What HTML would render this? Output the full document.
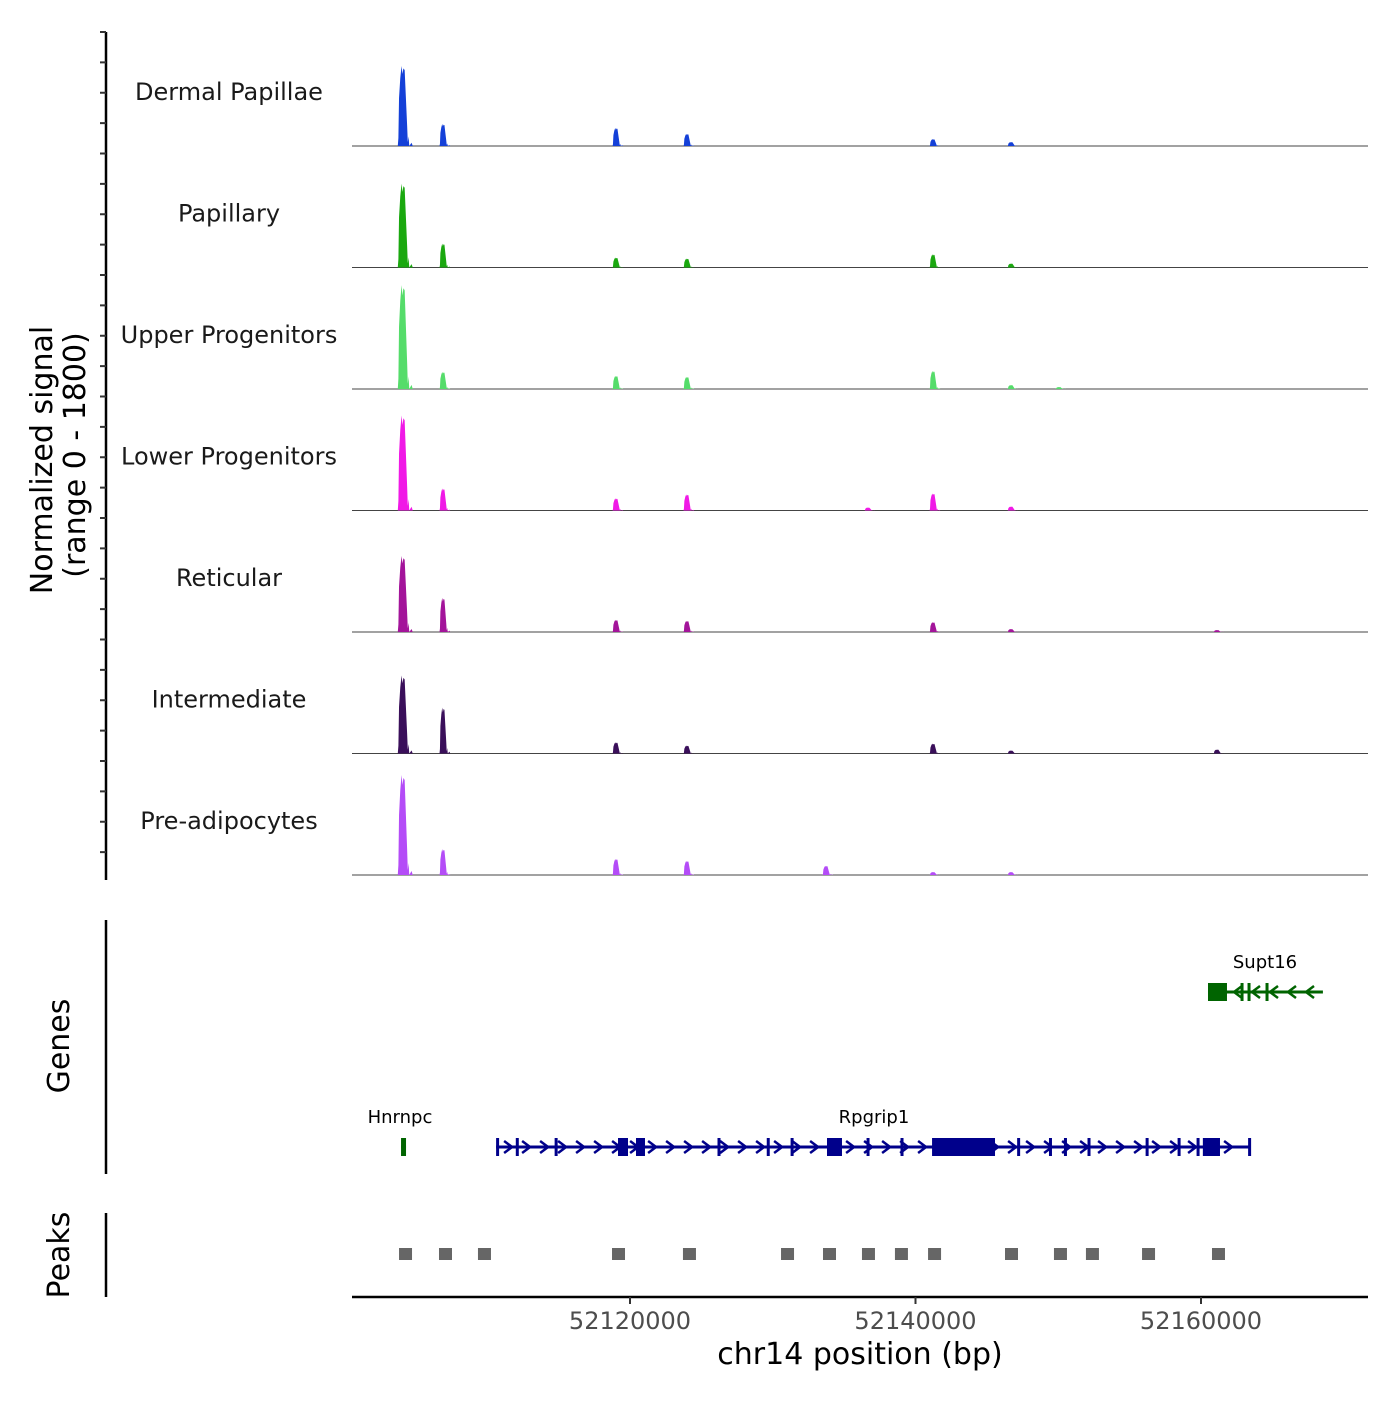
<!DOCTYPE html>
<html><head><meta charset="utf-8"><style>
body{margin:0;background:#fff}
svg text{font-family:"DejaVu Sans","Liberation Sans",sans-serif}
</style></head><body>
<svg id="c" width="1400" height="1400" viewBox="0 0 1400 1400" xmlns="http://www.w3.org/2000/svg"></svg>
<script>
// ---- data (positions in kb, offset from chr14:52,000,000) ----
const trackNames = ["Dermal Papillae","Papillary","Upper Progenitors","Lower Progenitors","Reticular","Intermediate","Pre-adipocytes"];
const trackColors = ["#1440d8","#1aa80f","#55dc6a","#f019e6","#a3149a","#3a0f5a","#b44cf7"];
const peakPosKb = [104.17,106.97,119.09,124.06,133.80,136.74,141.30,146.76,150.12,161.19];
const sigDermal = [1220,335,275,185,0,0,105,60,0,0];
const sigPapillary = [1280,365,150,135,0,0,200,60,0,0];
const sigUpper = [1585,260,200,185,0,0,275,60,30,0];
const sigLower = [1450,335,185,245,0,45,260,60,0,0];
const sigReticular = [1160,520,185,170,0,0,150,45,0,30];
const sigIntermediate = [1190,700,170,120,0,0,150,45,0,60];
const sigPreadipo = [1525,395,245,215,140,0,45,45,0,0];
const signals = [sigDermal,sigPapillary,sigUpper,sigLower,sigReticular,sigIntermediate,sigPreadipo];
const xTicks = [52120000,52140000,52160000];
const peakRegionsKb = [104.24,107.04,109.77,119.16,124.13,131.00,133.94,136.67,138.98,141.30,146.69,150.12,152.36,156.29,161.19];
const rpgripExons = [[110.62,110.75],[112.0,112.05],[114.72,114.78],[119.16,119.86],[120.42,121.05],[126.13,126.19],[129.58,129.62],[131.25,131.31],[133.80,134.85],[136.57,136.63],[138.95,139.01],[141.16,145.57],[147.12,147.24],[149.35,149.49],[150.40,150.54],[152.05,152.11],[156.12,156.18],[158.36,158.42],[159.69,159.75],[160.13,161.33],[163.30,163.40]];
const supt16Exons = [[160.49,161.82],[162.77,162.83],[163.26,163.32],[164.52,164.58]];
const hnrnpcExons = [[103.96,104.31]];

const S = document.getElementById('c'), NS = 'http://www.w3.org/2000/svg';
function el(t, a, p){const e=document.createElementNS(NS,t);for(const k in a)e.setAttribute(k,a[k]);(p||S).appendChild(e);return e;}
const X = kb => 630 + (kb - 120) * 14.275;
const X0 = 352, X1 = 1368;
const base0 = 146, trackH = 121.5, yScale = 118/1800;

const shape = [[-5,0],[-4.5,0.1],[-4,0.6],[-3,0.85],[-2,1],[-1.2,0.9],[-0.5,0.97],[0.5,0.95],[1.5,0.6],[2.5,0.25],[3,0.05],[3.6,0.12],[4.2,0],[6,0.04],[7,0]];
signals.forEach((vals, ti) => {
  const base = base0 + ti * trackH;
  const g = el('g', {});
  
  
  const lab = el('text', {x:229, y:base-46, 'font-size':24, 'text-anchor':'middle', fill:'#1a1a1a'}, g);
  lab.textContent = trackNames[ti];
  
  
  el('line', {x1:X0, x2:X1, y1:base, y2:base, stroke:'#444', 'stroke-width':1}, g);
  vals.forEach((v, i) => {
    if (!v) return;
    const cx = X(peakPosKb[i]), h = v * yScale, w = i === 0 ? 1.25 : 0.9;
    let d = 'M' + (cx + shape[0][0]*w) + ',' + base;
    shape.forEach(s => { d += 'L' + (cx + s[0]*w).toFixed(2) + ',' + (base - s[1]*h).toFixed(2); });
    d += 'Z';
    const p = el('path', {d, fill:trackColors[ti]}, g);
    
    
  });
});

el('line', {x1:106, x2:106, y1:32, y2:880, stroke:'#000', 'stroke-width':2.5});
for (let y = 32; y <= 880; y += trackH/4) el('line', {x1:100, x2:106, y1:y, y2:y, stroke:'#333', 'stroke-width':2});
let t = el('text', {transform:'translate(52,460) rotate(-90)', 'font-size':30, 'text-anchor':'middle'}); t.textContent = 'Normalized signal';
 
t = el('text', {transform:'translate(85,455) rotate(-90)', 'font-size':30, 'text-anchor':'middle'}); t.textContent = '(range 0 - 1800)';
 

el('line', {x1:106, x2:106, y1:920, y2:1174, stroke:'#000', 'stroke-width':2.5});
t = el('text', {transform:'translate(69,1046) rotate(-90)', 'font-size':30, 'text-anchor':'middle'}); t.textContent = 'Genes';
 
function gene(name, exons, startKb, endKb, y, color, strand, labelX, labelY){
  const g = el('g', {});
  
  
  el('line', {x1:X(startKb), x2:X(endKb), y1:y, y2:y, stroke:color, 'stroke-width':3}, g);
  const x1 = X(startKb), x2 = X(endKb);
  for (let x = x1 + 12; x < x2 - 6; x += 18) {
    const dx = strand > 0 ? 4 : -4;
    el('polyline', {points:`${x-dx},${y-6} ${x+dx},${y} ${x-dx},${y+6}`, fill:'none', stroke:color, 'stroke-width':2.5}, g);
  }
  exons.forEach(e => {
    const a = X(e[0]), b = Math.max(X(e[1]), a + 3);
    el('rect', {x:a, y:y-9, width:b-a, height:18, fill:color}, g);
  });
  const lt = el('text', {x:labelX, y:labelY, 'font-size':18, 'text-anchor':'middle', fill:'#000'}, g);
  lt.textContent = name;
}
gene('Supt16', supt16Exons, 160.49, 168.54, 992, '#006400', -1, 1265, 968);
gene('Hnrnpc', hnrnpcExons, 103.96, 104.31, 1147, '#006400', -1, 400, 1123);
gene('Rpgrip1', rpgripExons, 110.62, 163.40, 1147, '#00008b', 1, 874, 1123);

el('line', {x1:106, x2:106, y1:1213, y2:1297, stroke:'#000', 'stroke-width':2.5});
t = el('text', {transform:'translate(69,1255) rotate(-90)', 'font-size':30, 'text-anchor':'middle'}); t.textContent = 'Peaks';
 
peakRegionsKb.forEach(k => {
  const r = el('rect', {x:X(k)-6, y:1248, width:13, height:12, fill:'#666'});
  
  
});

el('line', {x1:X0, x2:X1, y1:1297, y2:1297, stroke:'#000', 'stroke-width':2.5});
xTicks.forEach(v => {
  const x = X((v - 52000000)/1000);
  el('line', {x1:x, x2:x, y1:1297, y2:1304, stroke:'#333', 'stroke-width':2});
  const tl = el('text', {x, y:1329, 'font-size':24, 'text-anchor':'middle', fill:'#4d4d4d'});
  tl.textContent = v;
  
  
});
t = el('text', {x:860, y:1364, 'font-size':30, 'text-anchor':'middle'}); t.textContent = 'chr14 position (bp)';
 
</script>
</body></html>
